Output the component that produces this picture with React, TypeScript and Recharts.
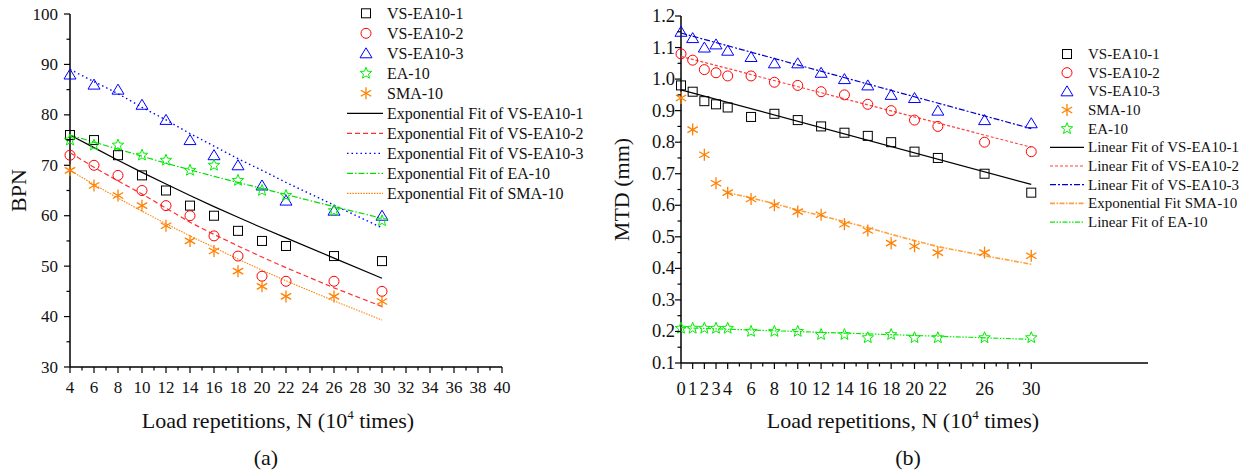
import { ScatterChart, Scatter, XAxis, YAxis } from 'recharts';

const FONT = '"Liberation Serif", "Times New Roman", serif';

// ---- chart (a): BPN ----
const loadA = [4, 6, 8, 10, 12, 14, 16, 18, 20, 22, 26, 30];
const bpnVS1 = [76, 75, 72, 68, 65, 62, 60, 57, 55, 54, 52, 51];
const bpnVS2 = [72, 70, 68, 65, 62, 60, 56, 52, 48, 47, 47, 45];
const bpnVS3 = [88, 86, 85, 82, 79, 75, 72, 70, 66, 63, 61, 60];
const bpnEA = [75, 74, 74, 72, 71, 69, 70, 67, 65, 64, 61, 59];
const bpnSMA = [69, 66, 64, 62, 58, 55, 53, 49, 46, 44, 44, 43];

const fitVS1 = [76, 73.5, 71, 68.6, 66.3, 64, 61.8, 59.7, 57.6, 55.6, 51.6, 47.6];
const fitVS2 = [72.5, 69.6, 66.9, 64.3, 61.5, 58.7, 56.3, 54, 51.8, 49.7, 45.7, 42];
const fitVS3 = [89, 86.6, 84.2, 81.5, 79, 76.3, 73.8, 71.3, 69, 66.6, 62.1, 57.6];
const fitEA = [76, 74.6, 73.2, 71.8, 70.4, 69.1, 67.8, 66.6, 65.4, 64.2, 61.8, 59.5];
const fitSMA = [69, 66.2, 63.5, 60.9, 58.4, 56, 53.7, 51.4, 49.2, 47.1, 43.1, 39.3];

const ticksXA = [4, 5, 6, 7, 8, 9, 10, 11, 12, 13, 14, 15, 16, 17, 18, 19, 20, 21, 22, 23, 24, 25, 26, 27, 28, 29, 30, 31, 32, 33, 34, 35, 36, 37, 38, 39, 40];
const labelsXA = [4, 6, 8, 10, 12, 14, 16, 18, 20, 22, 24, 26, 28, 30, 32, 34, 36, 38, 40];
const ticksYA = [30, 35, 40, 45, 50, 55, 60, 65, 70, 75, 80, 85, 90, 95, 100];
const labelsYA = [30, 40, 50, 60, 70, 80, 90, 100];

// ---- chart (b): MTD ----
const loadB = [0, 1, 2, 3, 4, 6, 8, 10, 12, 14, 16, 18, 20, 22, 26, 30];
const mtdVS1 = [0.98, 0.96, 0.93, 0.92, 0.91, 0.88, 0.89, 0.87, 0.85, 0.83, 0.82, 0.8, 0.77, 0.75, 0.7, 0.64];
const mtdVS2 = [1.08, 1.06, 1.03, 1.02, 1.01, 1.01, 0.99, 0.98, 0.96, 0.95, 0.92, 0.9, 0.87, 0.85, 0.8, 0.77];
const mtdVS3 = [1.15, 1.13, 1.1, 1.11, 1.09, 1.07, 1.05, 1.05, 1.02, 1.0, 0.98, 0.95, 0.94, 0.9, 0.87, 0.86];
const mtdSMA = [0.94, 0.84, 0.76, 0.67, 0.64, 0.62, 0.6, 0.58, 0.57, 0.54, 0.52, 0.48, 0.47, 0.45, 0.45, 0.44];
const mtdEA = [0.21, 0.21, 0.21, 0.21, 0.21, 0.2, 0.2, 0.2, 0.19, 0.19, 0.18, 0.19, 0.18, 0.18, 0.18, 0.18];

const linEnds = [0, 30];
const linVS1 = [0.966, 0.666];
const linVS2 = [1.072, 0.784];
const linVS3 = [1.146, 0.843];
const linEA = [0.212, 0.175];
const expLoadSMA = [4, 6, 8, 10, 12, 14, 16, 18, 20, 22, 26, 30];
const expSMA = [0.64, 0.623, 0.605, 0.585, 0.567, 0.548, 0.529, 0.508, 0.488, 0.469, 0.44, 0.413];

const ticksXB = [0, 1, 2, 3, 4, 5, 6, 7, 8, 9, 10, 11, 12, 13, 14, 15, 16, 17, 18, 19, 20, 21, 22, 23, 24, 25, 26, 27, 28, 29, 30];
const majorsXB = [0, 1, 2, 3, 4, 6, 8, 10, 12, 14, 16, 18, 20, 22, 24, 26, 28, 30];
const labelsXB = [0, 1, 2, 3, 4, 6, 8, 10, 12, 14, 16, 18, 20, 22, 26, 30];
const ticksYB = [0.1, 0.15, 0.2, 0.25, 0.3, 0.35, 0.4, 0.45, 0.5, 0.55, 0.6, 0.65, 0.7, 0.75, 0.8, 0.85, 0.9, 0.95, 1.0, 1.05, 1.1, 1.15, 1.2];

const pts = (xs: number[], ys: number[]) => xs.map((x, i) => ({ x, y: ys[i] }));

// ---- marker shapes ----
const Square = ({ cx, cy }: any) => (
  <rect x={cx - 4.5} y={cy - 4.5} width={9} height={9} fill="none" stroke="#000" strokeWidth={1} />
);
const Circle = ({ cx, cy }: any) => <circle cx={cx} cy={cy} r={5} fill="none" stroke="#ff0000" strokeWidth={1} />;
const Triangle = ({ cx, cy }: any) => (
  <polygon points={`${cx},${cy - 5.5} ${cx + 6},${cy + 4.5} ${cx - 6},${cy + 4.5}`} fill="none" stroke="#0000ff" strokeWidth={1} />
);
const Star = ({ cx, cy }: any) => {
  const p: string[] = [];
  for (let i = 0; i < 10; i++) {
    const r = i % 2 === 0 ? 6 : 2.6;
    const a = -Math.PI / 2 + (i * Math.PI) / 5;
    p.push(`${cx + r * Math.cos(a)},${cy + r * Math.sin(a)}`);
  }
  return <polygon points={p.join(' ')} fill="none" stroke="#00ee00" strokeWidth={1} />;
};
const Asterisk = ({ cx, cy }: any) => (
  <g stroke="#ff8000" strokeWidth={1.3}>
    <line x1={cx} y1={cy - 6} x2={cx} y2={cy + 6} />
    <line x1={cx - 5.2} y1={cy - 3} x2={cx + 5.2} y2={cy + 3} />
    <line x1={cx - 5.2} y1={cy + 3} x2={cx + 5.2} y2={cy - 3} />
  </g>
);
const NoDot = () => <g />;

// ---- ticks ----
const xTick = (majors: number[], labels: number[], dy: number, fs: number) => (props: any) => {
  const { x, y, payload } = props;
  const v = payload.value;
  const major = majors.includes(v);
  return (
    <g>
      <line x1={x} x2={x} y1={y} y2={y + (major ? 6 : 3.5)} stroke="#000" strokeWidth={1.2} />
      {labels.includes(v) && (
        <text x={x} y={y + dy} textAnchor="middle" fontSize={fs} fontFamily={FONT} fill="#111">
          {v}
        </text>
      )}
    </g>
  );
};

const yTick = (isMajor: (v: number) => boolean, fmt: (v: number) => string, gap: number, fs: number) => (props: any) => {
  const { x, y, payload } = props;
  const v = payload.value;
  const major = isMajor(v);
  return (
    <g>
      <line x1={x} x2={x - (major ? 6 : 3.5)} y1={y} y2={y} stroke="#000" strokeWidth={1.2} />
      {major && (
        <text x={x - gap} y={y} textAnchor="end" dominantBaseline="central" fontSize={fs} fontFamily={FONT} fill="#111">
          {fmt(v)}
        </text>
      )}
    </g>
  );
};

const xTitle = (cx: number, tag: string, tagX: number) => () => (
  <g fontFamily={FONT} fill="#111">
    <text x={cx} y={428} textAnchor="middle" fontSize={22}>
      <tspan>Load repetitions, N (10</tspan>
      <tspan dy={-9} fontSize={13}>4</tspan>
      <tspan dy={9}> times)</tspan>
    </text>
    <text x={tagX} y={465} textAnchor="middle" fontSize={22}>
      {tag}
    </text>
  </g>
);

const yTitle = (text: string, dx: number) => (props: any) => {
  const vb = props.viewBox;
  const cx = vb.x + dx;
  const cy = vb.y + vb.height / 2;
  return (
    <text x={cx} y={cy} transform={`rotate(-90 ${cx} ${cy})`} textAnchor="middle" dominantBaseline="central" fontSize={22} fontFamily={FONT} fill="#111">
      {text}
    </text>
  );
};

const axisStyle = { stroke: '#000', strokeWidth: 1.5 };

type LegendItem = { label: string; marker?: any; stroke?: string; dash?: string; width?: number };

const legendA: LegendItem[] = [
  { label: 'VS-EA10-1', marker: Square },
  { label: 'VS-EA10-2', marker: Circle },
  { label: 'VS-EA10-3', marker: Triangle },
  { label: 'EA-10', marker: Star },
  { label: 'SMA-10', marker: Asterisk },
  { label: 'Exponential Fit of VS-EA10-1', stroke: '#000' },
  { label: 'Exponential Fit of VS-EA10-2', stroke: '#ff3030', dash: '5 3' },
  { label: 'Exponential Fit of VS-EA10-3', stroke: '#0000ff', dash: '1.5 3' },
  { label: 'Exponential Fit of EA-10', stroke: '#00dd00', dash: '6 2 1.5 2' },
  { label: 'Exponential Fit of SMA-10', stroke: '#ff8000', dash: '1.5 1.2' },
];

const legendB: LegendItem[] = [
  { label: 'VS-EA10-1', marker: Square },
  { label: 'VS-EA10-2', marker: Circle },
  { label: 'VS-EA10-3', marker: Triangle },
  { label: 'SMA-10', marker: Asterisk },
  { label: 'EA-10', marker: Star },
  { label: 'Linear Fit of VS-EA10-1', stroke: '#000' },
  { label: 'Linear Fit of VS-EA10-2', stroke: '#ff4040', dash: '3 2' },
  { label: 'Linear Fit of VS-EA10-3', stroke: '#0000cc', dash: '6 2 2 2' },
  { label: 'Exponential Fit SMA-10', stroke: '#ffa040', dash: '5 1.5 1.5 1.5', width: 1.6 },
  { label: 'Linear Fit of EA-10', stroke: '#00ee00', dash: '5 1.5 1.5 1.5 1.5 1.5' },
];

function Legend({ items, top, step, markerX, lineX1, lineX2, textX, fontSize }: any) {
  return (
    <svg style={{ position: 'absolute', left: 0, top: 0 }} width={1245} height={471} pointerEvents="none">
      {items.map((it: LegendItem, i: number) => {
        const cy = top + i * step;
        const M = it.marker;
        return (
          <g key={it.label}>
            {M ? (
              <M cx={markerX} cy={cy} />
            ) : (
              <line x1={lineX1} x2={lineX2} y1={cy} y2={cy} stroke={it.stroke} strokeWidth={it.width ?? 1.2} strokeDasharray={it.dash} />
            )}
            <text x={textX} y={cy} dominantBaseline="central" fontSize={fontSize} fontFamily={FONT} fill="#111">
              {it.label}
            </text>
          </g>
        );
      })}
    </svg>
  );
}

export default function App() {
  return (
    <div style={{ position: 'absolute', left: 0, top: 0, width: 1245, height: 471, background: '#fff' }}>
      <div style={{ position: 'absolute', left: 0, top: 0 }}>
        <ScatterChart width={620} height={471} margin={{ top: 14, right: 118, bottom: 74, left: 20 }}>
          <XAxis
            type="number"
            dataKey="x"
            domain={[4, 40]}
            ticks={ticksXA}
            interval={0}
            tickSize={0}
            tickMargin={0}
            tickLine={false}
            axisLine={axisStyle}
            height={30}
            tick={xTick(labelsXA, labelsXA, 26, 17)}
            label={{ content: xTitle(278, '(a)', 266) }}
          />
          <YAxis
            type="number"
            dataKey="y"
            domain={[30, 100]}
            ticks={ticksYA}
            interval={0}
            tickSize={0}
            tickMargin={0}
            tickLine={false}
            axisLine={axisStyle}
            width={50}
            tick={yTick((v) => labelsYA.includes(v), (v) => String(v), 12, 17)}
            label={{ content: yTitle('BPN', -2) }}
          />
          <Scatter data={pts(loadA, fitVS1)} shape={NoDot} line={{ stroke: '#000', strokeWidth: 1.2 }} isAnimationActive={false} />
          <Scatter data={pts(loadA, fitVS2)} shape={NoDot} line={{ stroke: '#ff3030', strokeWidth: 1.2, strokeDasharray: '5 3' }} isAnimationActive={false} />
          <Scatter data={pts(loadA, fitVS3)} shape={NoDot} line={{ stroke: '#0000ff', strokeWidth: 1.4, strokeDasharray: '1.5 3' }} isAnimationActive={false} />
          <Scatter data={pts(loadA, fitEA)} shape={NoDot} line={{ stroke: '#00dd00', strokeWidth: 1.2, strokeDasharray: '6 2 1.5 2' }} isAnimationActive={false} />
          <Scatter data={pts(loadA, fitSMA)} shape={NoDot} line={{ stroke: '#ff8000', strokeWidth: 1.1, strokeDasharray: '1.5 1.2' }} isAnimationActive={false} />
          <Scatter data={pts(loadA, bpnVS1)} shape={Square} isAnimationActive={false} />
          <Scatter data={pts(loadA, bpnVS2)} shape={Circle} isAnimationActive={false} />
          <Scatter data={pts(loadA, bpnVS3)} shape={Triangle} isAnimationActive={false} />
          <Scatter data={pts(loadA, bpnEA)} shape={Star} isAnimationActive={false} />
          <Scatter data={pts(loadA, bpnSMA)} shape={Asterisk} isAnimationActive={false} />
        </ScatterChart>
      </div>
      <div style={{ position: 'absolute', left: 600, top: 0 }}>
        <ScatterChart width={645} height={471} margin={{ top: 16, right: 97, bottom: 78, left: 31 }}>
          <XAxis
            type="number"
            dataKey="x"
            domain={[0, 40]}
            ticks={ticksXB}
            interval={0}
            tickSize={0}
            tickMargin={0}
            tickLine={false}
            axisLine={axisStyle}
            height={30}
            tick={xTick(majorsXB, labelsXB, 32, 18.5)}
            label={{ content: xTitle(303, '(b)', 308) }}
          />
          <YAxis
            type="number"
            dataKey="y"
            domain={[0.1, 1.2]}
            ticks={ticksYB}
            interval={0}
            tickSize={0}
            tickMargin={0}
            tickLine={false}
            axisLine={axisStyle}
            width={50}
            tick={yTick((v) => Math.abs(v * 10 - Math.round(v * 10)) < 1e-6, (v) => v.toFixed(1), 6, 18.5)}
            label={{ content: yTitle('MTD (mm)', -10) }}
          />
          <Scatter data={pts(linEnds, linVS1)} shape={NoDot} line={{ stroke: '#000', strokeWidth: 1.2 }} isAnimationActive={false} />
          <Scatter data={pts(linEnds, linVS2)} shape={NoDot} line={{ stroke: '#ff4040', strokeWidth: 1.2, strokeDasharray: '3 2' }} isAnimationActive={false} />
          <Scatter data={pts(linEnds, linVS3)} shape={NoDot} line={{ stroke: '#0000cc', strokeWidth: 1.2, strokeDasharray: '6 2 2 2' }} isAnimationActive={false} />
          <Scatter data={pts(expLoadSMA, expSMA)} shape={NoDot} line={{ stroke: '#ffa040', strokeWidth: 1.6, strokeDasharray: '5 1.5 1.5 1.5' }} isAnimationActive={false} />
          <Scatter data={pts(linEnds, linEA)} shape={NoDot} line={{ stroke: '#00ee00', strokeWidth: 1.2, strokeDasharray: '5 1.5 1.5 1.5 1.5 1.5' }} isAnimationActive={false} />
          <Scatter data={pts(loadB, mtdVS1)} shape={Square} isAnimationActive={false} />
          <Scatter data={pts(loadB, mtdVS2)} shape={Circle} isAnimationActive={false} />
          <Scatter data={pts(loadB, mtdVS3)} shape={Triangle} isAnimationActive={false} />
          <Scatter data={pts(loadB, mtdSMA)} shape={Asterisk} isAnimationActive={false} />
          <Scatter data={pts(loadB, mtdEA)} shape={Star} isAnimationActive={false} />
        </ScatterChart>
      </div>
      <Legend items={legendA} top={13.3} step={20} markerX={366} lineX1={347} lineX2={383} textX={387} fontSize={16} />
      <Legend items={legendB} top={54} step={18.67} markerX={1067} lineX1={1050} lineX2={1084} textX={1088} fontSize={15} />
    </div>
  );
}
